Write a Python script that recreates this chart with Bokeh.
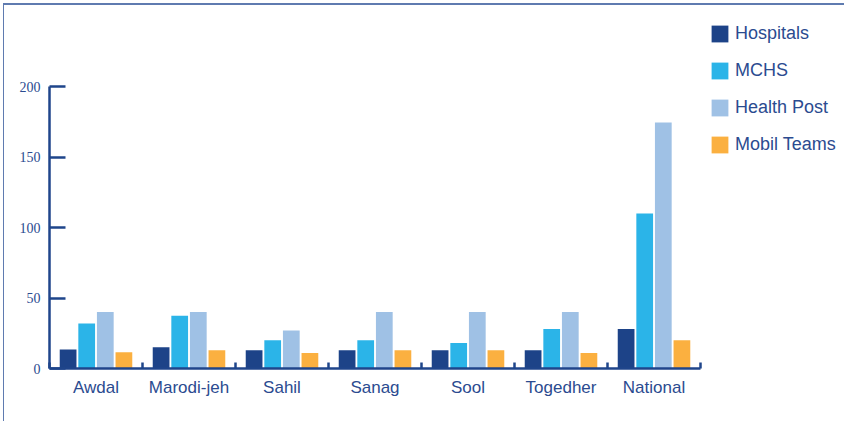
from bokeh.plotting import figure
from bokeh.models import ColumnDataSource, FixedTicker, Legend, LegendItem, Range1d
from bokeh.transform import dodge
from bokeh.embed import file_html
from bokeh.resources import INLINE

regions = ["Awdal", "Marodi-jeh", "Sahil", "Sanag", "Sool", "Togedher", "National"]
hospitals = [13.5, 15, 13, 13, 13, 13, 28]
mchs = [32, 37.5, 20, 20, 18, 28, 110]
health_post = [40, 40, 27, 40, 40, 40, 174.5]
mobil_teams = [11.5, 13, 11, 13, 13, 11, 20]
y_ticks = [0, 50, 100, 150, 200]

series = [
    ("Hospitals", "#1d4388", -0.3),
    ("MCHS", "#2bb4e8", -0.1),
    ("Health Post", "#9fc1e5", 0.1),
    ("Mobil Teams", "#fbb040", 0.3),
]

src = ColumnDataSource(dict(
    x=[i + 0.5 for i in range(len(regions))],
    hospitals=hospitals, mchs=mchs, health_post=health_post, mobil_teams=mobil_teams,
))
cols = ["hospitals", "mchs", "health_post", "mobil_teams"]

AX = "#1f458b"
TXT = "#2b4b90"

p = figure(width=841, height=418, output_backend="svg", toolbar_location=None,
           x_range=Range1d(0, 8.516), y_range=Range1d(0, 252.5),
           min_border_left=45, min_border_top=7, min_border_bottom=55, min_border_right=4)
p.styles = {"border-top": "2px solid #5f7bb0", "border-left": "1px solid #5f7bb0",
            "margin-left": "3px", "margin-top": "3px"}
p.outline_line_color = None
p.xgrid.visible = False
p.ygrid.visible = False

items = []
for (name, color, off), col in zip(series, cols):
    r = p.vbar(x=dodge("x", off), top=col, width=0.18, bottom=0, source=src,
               fill_color=color, line_color=None)
    items.append(LegendItem(label=name, renderers=[r]))

# x axis
p.xaxis.bounds = (0, len(regions))
p.xaxis.ticker = FixedTicker(ticks=[i + 0.5 for i in range(len(regions))],
                             minor_ticks=list(range(len(regions) + 1)))
p.xaxis.major_label_overrides = {i + 0.5: r for i, r in enumerate(regions)}
p.xaxis.major_tick_in = 0
p.xaxis.major_tick_out = 0
p.xaxis.minor_tick_in = 6
p.xaxis.minor_tick_out = 0
p.xaxis.minor_tick_line_color = AX
p.xaxis.minor_tick_line_width = 2.5
p.xaxis.axis_line_color = AX
p.xaxis.axis_line_width = 2.5
p.xaxis.major_label_text_font = "Liberation Sans"
p.xaxis.major_label_text_font_size = "17px"
p.xaxis.major_label_text_color = TXT
p.xaxis.major_label_standoff = 9

# y axis
p.yaxis.bounds = (0, 200)
p.yaxis.ticker = FixedTicker(ticks=y_ticks, minor_ticks=[])
p.yaxis.major_tick_in = 16
p.yaxis.major_tick_out = 0
p.yaxis.major_tick_line_color = AX
p.yaxis.major_tick_line_width = 2.5
p.yaxis.axis_line_color = AX
p.yaxis.axis_line_width = 2.5
p.yaxis.major_label_text_font = "Liberation Serif"
p.yaxis.major_label_text_font_size = "14px"
p.yaxis.major_label_text_color = TXT
p.yaxis.major_label_standoff = 9

legend = Legend(items=items, location=(660, 213), orientation="vertical",
                padding=0, margin=0, spacing=16, glyph_width=21, glyph_height=21,
                label_standoff=5, label_height=21,
                label_text_font="Liberation Sans", label_text_font_size="18px",
                label_text_color=TXT, border_line_color=None, background_fill_alpha=0)
p.add_layout(legend, "center")

open("out.html", "w").write(file_html(p, INLINE))
